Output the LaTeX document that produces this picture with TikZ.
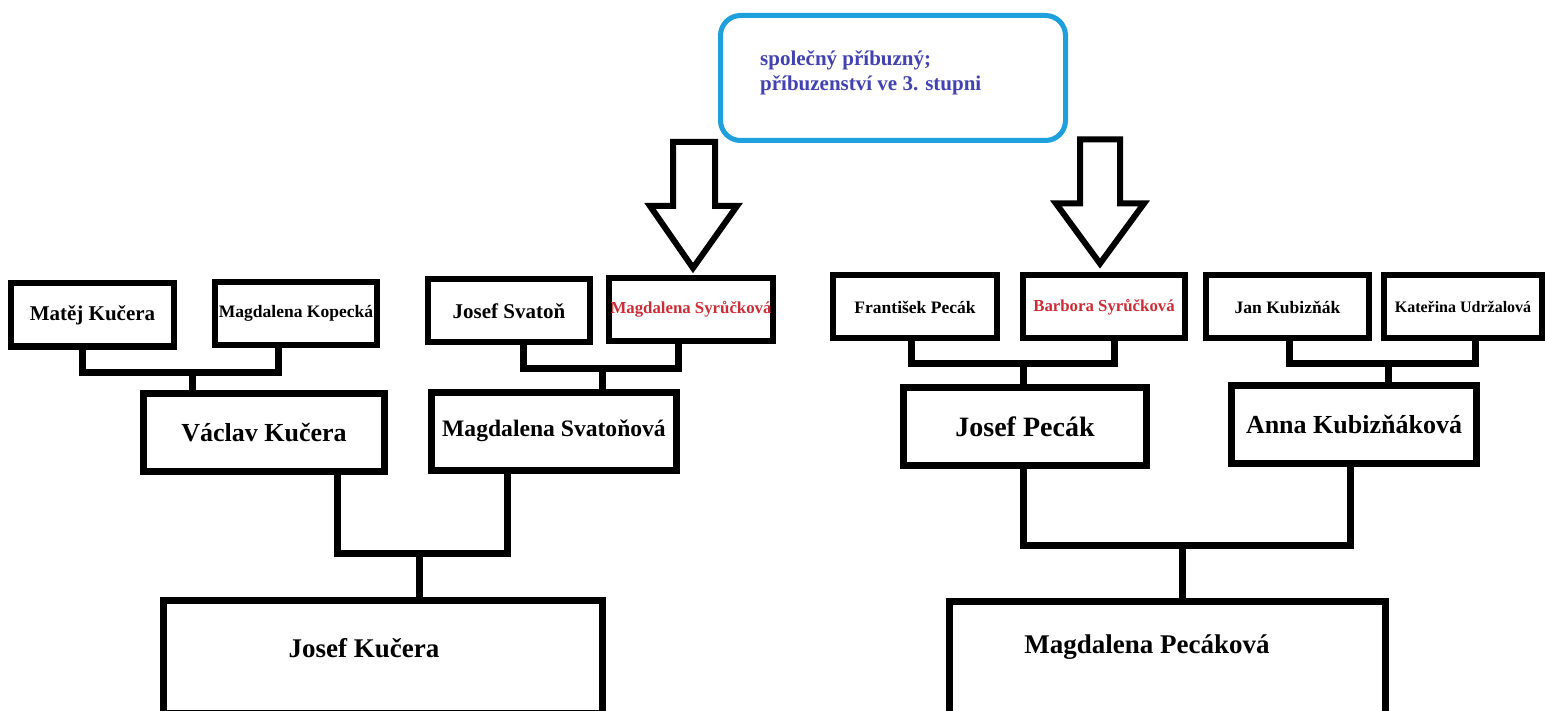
\documentclass[tikz,border=0pt]{standalone}
\usepackage{fontspec}
\setmainfont{Liberation Serif}
\usetikzlibrary{calc,positioning}
\definecolor{kinred}{RGB}{205,45,55}
\definecolor{kinblue}{RGB}{66,66,178}
\definecolor{framecyan}{RGB}{30,160,220}

\begin{document}
\begin{tikzpicture}[x=1pt,y=-1pt,line join=miter,
  fsz/.style={font=\fontsize{#1}{#1}\selectfont\bfseries},
  person/.style={draw,rectangle,inner sep=0pt,outer sep=0pt,line width=7pt,font=\bfseries},
  gen3/.style={person,line width=6pt,minimum height=63pt,fsz=17.5},
  gen2/.style={person,minimum height=78pt,fsz=26},
  gen1/.style={person,minimum height=112.5pt,anchor=north},
  link/.style={line width=7pt},
  hollow/.style={draw,line width=6pt,fill=white}]
\useasboundingbox (0,0) rectangle (1545,711);
\clip (0,0) rectangle (1545,711);
\fill[white] (0,0) rectangle (1545,711);

% note box
\node[draw=framecyan,line width=5pt,rounded corners=20pt,minimum width=345pt,minimum height=125pt,inner sep=0pt] (note) at (893,78) {};
\node[anchor=north west,align=left,text=kinblue,font=\fontsize{21}{25}\selectfont\bfseries,inner sep=0pt] (notetext) at (760,50) {společný příbuzný;\\příbuzenství ve 3. stupni};

% grandparents
\node[gen3,minimum width=163pt,fsz=21] (mk) at (92.5,315) {Matěj Kučera};
\node[gen3,minimum width=162pt] (mkop) at (296,313.5) {Magdalena Kopecká};
\node[gen3,minimum width=162pt,fsz=21] (js) at (509,311) {Josef Svatoň};
\node[gen3,minimum width=164pt,fsz=16.8,text=kinred] (ms) at (691,309.5) {Magdalena Syrůčková};
\node[gen3,minimum width=164pt] (fp) at (915,307) {František Pecák};
\node[gen3,minimum width=162pt,fsz=16.8,text=kinred] (bs) at (1104,307) {Barbora Syrůčková};
\node[gen3,minimum width=163pt] (jan) at (1287.5,307) {Jan Kubizňák};
\node[gen3,minimum width=158pt,fsz=16] (ku) at (1463,307) {Kateřina Udržalová};

% parents
\node[gen2,minimum width=241pt] (vk) at (264,432.5) {Václav Kučera};
\node[gen2,minimum width=245pt,fsz=23.6] (msv) at (554,431) {Magdalena Svatoňová};
\node[gen2,minimum width=243pt,fsz=28] (jp) at (1025,426.5) {Josef Pecák};
\node[gen2,minimum width=245pt] (ak) at (1354,424.5) {Anna Kubizňáková};

% children
\node[gen1,minimum width=439pt] (jku) at (383,600.5) {};
\node[fsz=27,inner sep=0pt] (jkut) at (364,648) {Josef Kučera};
\node[gen1,minimum width=436pt] (mpe) at (1167.5,601.5) {};
\node[fsz=27,inner sep=0pt] (mpet) at (1147,647) {Magdalena Pecáková};

% arrows
\draw[hollow] ($(ms.north)+(2,-10)$) -- ++(-43,-62) -- ++(23,0) -- ++(0,-64) -- ++(42,0) -- ++(0,64) -- ++(22,0) -- cycle;
\draw[hollow] ($(bs.north)+(-4,-12)$) -- ++(-44,-60) -- ++(24,0) -- ++(0,-64) -- ++(40,0) -- ++(0,64) -- ++(24,0) -- cycle;

% connectors
\coordinate (jn1) at (192,372);
\coordinate (jn2) at (602,368);
\coordinate (jn3) at (1023,363);
\coordinate (jn4) at (1388,363);
\coordinate (jn5) at (419,553);
\coordinate (jn6) at (1182,545);
\draw[link] ([xshift=-10.5pt]mk.south) |- (jn1) -| ([xshift=-18pt]mkop.south);
\draw[link] (jn1) -- (jn1 |- vk.north);
\draw[link] ([xshift=14pt]js.south) |- (jn2) -| ([xshift=-13pt]ms.south);
\draw[link] (jn2) -- (jn2 |- msv.north);
\draw[link] ([xshift=-4pt]fp.south) |- (jn3) -| ([xshift=10pt]bs.south);
\draw[link] (jn3) -- (jn3 |- jp.north);
\draw[link] ([xshift=1.5pt]jan.south) |- (jn4) -| ([xshift=12pt]ku.south);
\draw[link] (jn4) -- (jn4 |- ak.north);
\draw[link] ([xshift=73pt]vk.south) |- (jn5) -| ([xshift=-47pt]msv.south);
\draw[link] (jn5) -- (jn5 |- jku.north);
\draw[link] ([xshift=-2pt]jp.south) |- (jn6) -| ([xshift=-4pt]ak.south);
\draw[link] (jn6) -- (jn6 |- mpe.north);
\end{tikzpicture}
\end{document}
